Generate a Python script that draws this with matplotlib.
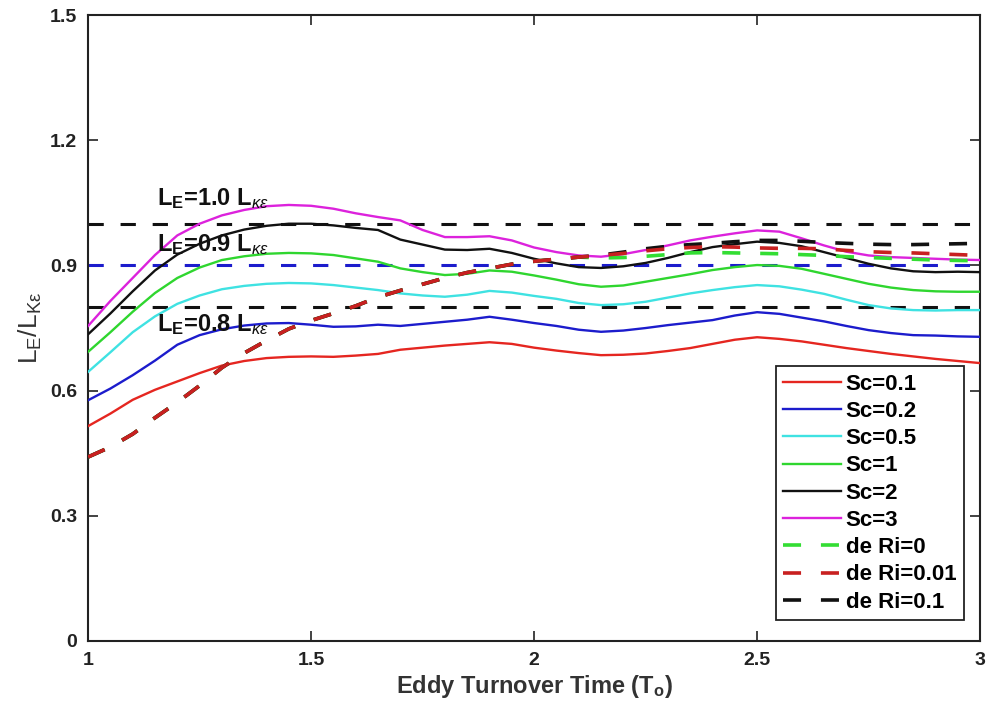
import numpy as np
import matplotlib.pyplot as plt

plt.rcParams['font.family'] = ['Liberation Sans', 'DejaVu Sans']
plt.rcParams['mathtext.fontset'] = 'custom'
plt.rcParams['mathtext.rm'] = 'Liberation Sans'
plt.rcParams['mathtext.bf'] = 'Liberation Sans:bold'
plt.rcParams['mathtext.it'] = 'Liberation Sans:italic'

# eddy turnover time grid
t = np.round(np.arange(1.0, 3.0001, 0.05), 2)

sc_labels = ['Sc=0.1', 'Sc=0.2', 'Sc=0.5', 'Sc=1', 'Sc=2', 'Sc=3']
sc_colors = ['#e52620', '#1c1ccc', '#3fe2e2', '#2fd62f', '#111111', '#dc22dc']

sc01 = [0.515, 0.545, 0.578, 0.602, 0.622, 0.642, 0.660, 0.671, 0.678, 0.681,
        0.682, 0.681, 0.684, 0.688, 0.698, 0.703, 0.708, 0.712, 0.716, 0.712,
        0.703, 0.696, 0.690, 0.685, 0.686, 0.689, 0.695, 0.702, 0.712, 0.722,
        0.728, 0.724, 0.718, 0.710, 0.702, 0.695, 0.688, 0.682, 0.676, 0.671, 0.666]
sc02 = [0.577, 0.605, 0.637, 0.672, 0.710, 0.733, 0.747, 0.756, 0.761, 0.762,
        0.758, 0.753, 0.754, 0.758, 0.755, 0.760, 0.765, 0.770, 0.777, 0.770,
        0.762, 0.755, 0.746, 0.741, 0.744, 0.750, 0.757, 0.763, 0.769, 0.780,
        0.788, 0.784, 0.775, 0.766, 0.755, 0.745, 0.738, 0.733, 0.732, 0.730, 0.729]
sc05 = [0.645, 0.692, 0.740, 0.778, 0.808, 0.828, 0.843, 0.851, 0.856, 0.858,
        0.857, 0.853, 0.847, 0.841, 0.833, 0.828, 0.825, 0.830, 0.839, 0.835,
        0.827, 0.820, 0.810, 0.805, 0.807, 0.813, 0.823, 0.833, 0.841, 0.848,
        0.853, 0.850, 0.842, 0.832, 0.818, 0.805, 0.797, 0.793, 0.792, 0.793, 0.793]
sc1 = [0.693, 0.740, 0.789, 0.834, 0.870, 0.895, 0.913, 0.922, 0.928, 0.930,
       0.929, 0.925, 0.917, 0.909, 0.893, 0.884, 0.877, 0.880, 0.888, 0.885,
       0.876, 0.866, 0.855, 0.849, 0.852, 0.861, 0.870, 0.879, 0.889, 0.896,
       0.901, 0.899, 0.892, 0.880, 0.868, 0.856, 0.847, 0.841, 0.838, 0.837, 0.837]
sc2 = [0.735, 0.785, 0.838, 0.888, 0.926, 0.952, 0.972, 0.986, 0.995, 1.000,
       1.000, 0.996, 0.990, 0.985, 0.962, 0.950, 0.938, 0.937, 0.940, 0.930,
       0.916, 0.905, 0.896, 0.894, 0.898, 0.906, 0.918, 0.932, 0.944, 0.951,
       0.957, 0.954, 0.946, 0.932, 0.918, 0.904, 0.893, 0.886, 0.884, 0.885, 0.884]
sc3 = [0.755, 0.815, 0.870, 0.925, 0.972, 1.000, 1.020, 1.033, 1.042, 1.045,
       1.043, 1.036, 1.025, 1.016, 1.008, 0.985, 0.968, 0.968, 0.970, 0.960,
       0.943, 0.932, 0.924, 0.921, 0.927, 0.937, 0.948, 0.960, 0.969, 0.977,
       0.984, 0.981, 0.965, 0.948, 0.933, 0.924, 0.920, 0.918, 0.916, 0.914, 0.913]
sc_series = [sc01, sc02, sc05, sc1, sc2, sc3]

ri_labels = ['de Ri=0', 'de Ri=0.01', 'de Ri=0.1']
ri_colors = ['#33dd33', '#c82020', '#111111']

ri_common = [0.441, 0.465, 0.496, 0.535, 0.572, 0.612, 0.655, 0.690, 0.720, 0.748,
             0.768, 0.785, 0.803, 0.824, 0.840, 0.855, 0.870, 0.883, 0.893, 0.903,
             0.910, 0.915, 0.920]
ri0 = ri_common + [0.918, 0.919, 0.922, 0.926, 0.930, 0.931, 0.930, 0.929, 0.928, 0.926,
                   0.924, 0.921, 0.919, 0.917, 0.915, 0.913, 0.912, 0.911]
ri001 = ri_common + [0.924, 0.929, 0.935, 0.940, 0.943, 0.945, 0.944, 0.942, 0.941, 0.941,
                     0.940, 0.936, 0.933, 0.931, 0.930, 0.928, 0.926, 0.924]
ri01 = ri_common + [0.925, 0.932, 0.940, 0.946, 0.950, 0.953, 0.957, 0.960, 0.960, 0.958,
                    0.955, 0.953, 0.951, 0.950, 0.950, 0.951, 0.952, 0.953]
ri_series = [ri0, ri001, ri01]

# reference levels L_E = c * L_ke
ref_levels = [1.0, 0.9, 0.8]
ref_colors = ['#111111', '#1c1ccc', '#111111']
ref_texts = [r'L$_\mathbf{E}$=1.0 L$_{\kappa\epsilon}$',
             r'L$_\mathbf{E}$=0.9 L$_{\kappa\epsilon}$',
             r'L$_\mathbf{E}$=0.8 L$_{\kappa\epsilon}$']
ref_text_pos = [(1.155, 1.045), (1.155, 0.935), (1.155, 0.742)]

fig = plt.figure(figsize=(9.9, 7.19), dpi=100)
ax = fig.add_axes([0.089, 0.1085, 0.901, 0.8705])

for lvl, c in zip(ref_levels, ref_colors):
    ax.plot([1, 3], [lvl, lvl], color=c, lw=2.2, dashes=(5, 5.5), zorder=2)

for y, lab, c in zip(sc_series, sc_labels, sc_colors):
    ax.plot(t, y, color=c, lw=1.7, label=lab, zorder=3)

for y, lab, c, z in zip(ri_series, ri_labels, ri_colors, [4, 6, 5]):
    ax.plot(t, y, color=c, lw=2.6, dashes=(5, 5.5), label=lab, zorder=z)

for txt, (x, y) in zip(ref_texts, ref_text_pos):
    ax.text(x, y, txt, fontsize=17, fontweight='bold', color='#111111', zorder=7)

ax.set_xlim(1, 3)
ax.set_ylim(0, 1.5)
ax.set_xticks([1, 1.5, 2, 2.5, 3])
ax.set_xticklabels(['1', '1.5', '2', '2.5', '3'])
ax.set_yticks([0, 0.3, 0.6, 0.9, 1.2, 1.5])
ax.set_yticklabels(['0', '0.3', '0.6', '0.9', '1.2', '1.5'])
ax.tick_params(direction='in', length=7, width=1.2, top=True, right=True,
               labelsize=14, colors='#222222', pad=8)
for lab in ax.get_xticklabels() + ax.get_yticklabels():
    lab.set_fontweight('bold')
for s in ax.spines.values():
    s.set_linewidth(1.5)
    s.set_color('#222222')

ax.set_xlabel(r'Eddy Turnover Time (T$_\mathbf{o}$)', fontsize=17,
              fontweight='bold', color='#333333', labelpad=3)
ax.set_ylabel(r'$\mathregular{L_E/L_{K\epsilon}}$', fontsize=19, color='#333333', labelpad=4)

leg = ax.legend(loc='lower right', bbox_to_anchor=(0.982, 0.033),
                prop={'weight': 'bold', 'size': 16}, handlelength=2.6,
                handletextpad=0.2, labelspacing=0.28, borderpad=0.35,
                borderaxespad=0, fancybox=False, framealpha=1, edgecolor='#222222')
leg.get_frame().set_linewidth(1.3)
leg.set_zorder(10)

fig.savefig('out.png', dpi=100)
